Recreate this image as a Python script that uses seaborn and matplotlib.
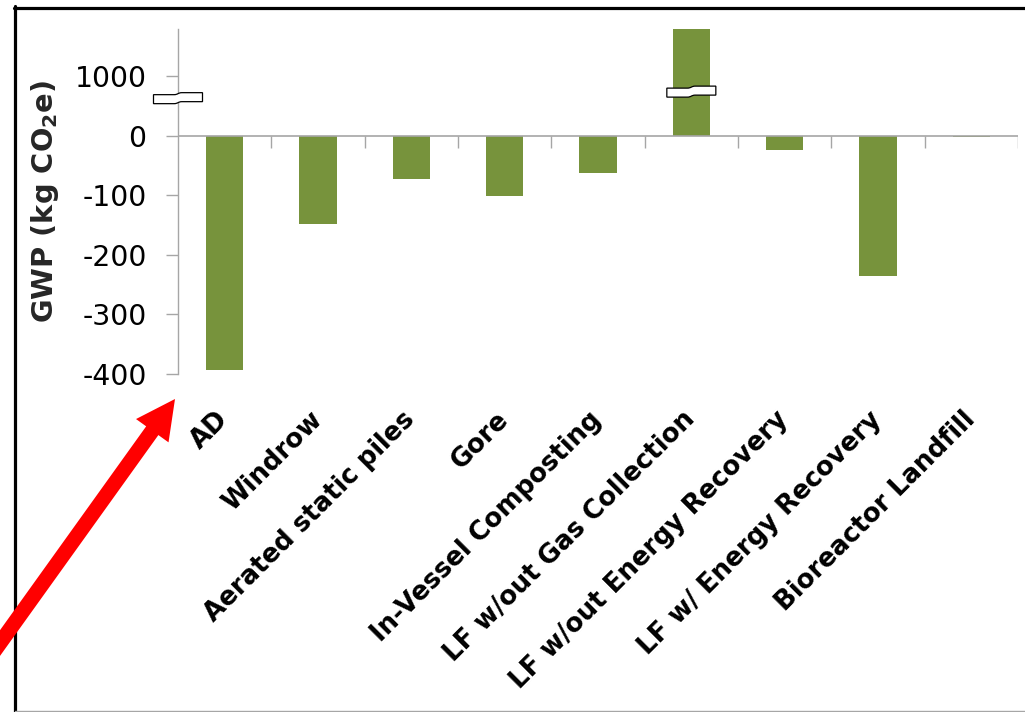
import numpy as np
import pandas as pd
import matplotlib
matplotlib.use("Agg")
import matplotlib.pyplot as plt
import seaborn as sns
from matplotlib.path import Path
from matplotlib.patches import PathPatch, FancyArrow
from matplotlib.lines import Line2D
from matplotlib.transforms import Affine2D, ScaledTranslation, IdentityTransform

# Global warming potential per management option (kg CO2e)
categories = ["AD", "Windrow", "Aerated static piles", "Gore", "In-Vessel Composting",
              "LF w/out Gas Collection", "LF w/out Energy Recovery",
              "LF w/ Energy Recovery", "Bioreactor Landfill"]
gwp = [-394, -149, -72, -102, -63, 1790, -24, -236, -3]

ytick_values = [-400, -300, -200, -100, 0, 1000]
ytick_labels = ["-400", "-300", "-200", "-100", "0", "1000"]
y_label = r"GWP (kg CO$_{\mathbf{2}}$e)"

sns.set_style("white")
plt.rcParams["font.family"] = ["DejaVu Sans"]
plt.rcParams["mathtext.fontset"] = "dejavusans"

BAR = "#77933C"
AXIS = "#A6A6A6"
W, H = 1025, 712

fig = plt.figure(figsize=(W / 100, H / 100), dpi=100)
ax = fig.add_axes([178 / W, 1 - 374 / H, 840 / W, (374 - 29.3) / H])

df = pd.DataFrame({"category": categories, "gwp": gwp})
sns.barplot(data=df, x="category", y="gwp", color=BAR, saturation=1,
            width=0.4, linewidth=0, errorbar=None, ax=ax, zorder=2)


# broken axis: everything above zero is compressed tenfold
def fwd(v):
    v = np.asarray(v, dtype=float)
    return np.where(v > 0, v / 10.0, v)


def inv(v):
    v = np.asarray(v, dtype=float)
    return np.where(v > 0, v * 10.0, v)


ax.set_yscale("function", functions=(fwd, inv))
ax.set_ylim(-400, 1786)
ax.set_xlim(-0.5, len(categories) - 0.5)

for side in ["top", "right", "bottom"]:
    ax.spines[side].set_visible(False)
ax.spines["left"].set_color(AXIS)
ax.spines["left"].set_linewidth(1.0)

ax.set_yticks(ytick_values, ytick_labels)
ax.tick_params(axis="y", length=8.6, width=1.0, color=AXIS, pad=14,
               labelsize=20.4, labelcolor="black", left=True)
ax.set_xticks(range(len(categories)), categories)
ax.tick_params(axis="x", length=0, pad=30, labelsize=18.7, labelcolor="black")
for lab in ax.get_xticklabels():
    lab.set_rotation(45)
    lab.set_ha("right")
    lab.set_va("center")
    lab.set_rotation_mode("anchor")
    lab.set_fontweight("bold")

ax.set_xlabel("")
ax.set_ylabel(y_label, fontsize=20.8, fontweight="bold", labelpad=9.8)

# zero line with category separators
ax.axhline(0, color=AXIS, lw=1.2, zorder=3)
ax.vlines(np.arange(len(categories)) + 0.5, -20, 0, color=AXIS, lw=1.0, zorder=3)

# axis-break markers
verts = [(-24.5, 3.5), (-4, 3.5), (0, 3.5), (0, 5.5), (4, 5.5), (24.5, 5.5),
         (24.5, -3.5), (4, -3.5), (0, -3.5), (0, -5.5), (-4, -5.5), (-24.5, -5.5),
         (-24.5, 3.5)]
codes = [Path.MOVETO, Path.LINETO, Path.CURVE4, Path.CURVE4, Path.CURVE4, Path.LINETO,
         Path.LINETO, Path.LINETO, Path.CURVE4, Path.CURVE4, Path.CURVE4, Path.LINETO,
         Path.CLOSEPOLY]
brk = Path(verts, codes)


def add_break(x, y, base):
    tr = Affine2D() + ScaledTranslation(x, y, base)
    ax.add_patch(PathPatch(brk, transform=tr, facecolor="white", edgecolor="black",
                           lw=0.9, clip_on=False, zorder=5))


add_break(0, 630, ax.get_yaxis_transform())
add_break(5, 740, ax.transData)

# figure frame
fig.add_artist(Line2D([15, 15], [0, H - 6], transform=IdentityTransform(),
                      color="black", lw=2.3, zorder=1))
fig.add_artist(Line2D([13.5, W], [H - 7.5, H - 7.5], transform=IdentityTransform(),
                      color="black", lw=2.3, zorder=1))
fig.add_artist(Line2D([15, W], [0.6, 0.6], transform=IdentityTransform(),
                      color=AXIS, lw=1.0, zorder=1))

# pointer arrow
fig.add_artist(FancyArrow(-10, 55, 185, 258, width=15, head_width=40, head_length=39,
                          length_includes_head=True, color="#FF0000", lw=0,
                          transform=IdentityTransform(), zorder=6))

fig.savefig("out.png", dpi=100)
